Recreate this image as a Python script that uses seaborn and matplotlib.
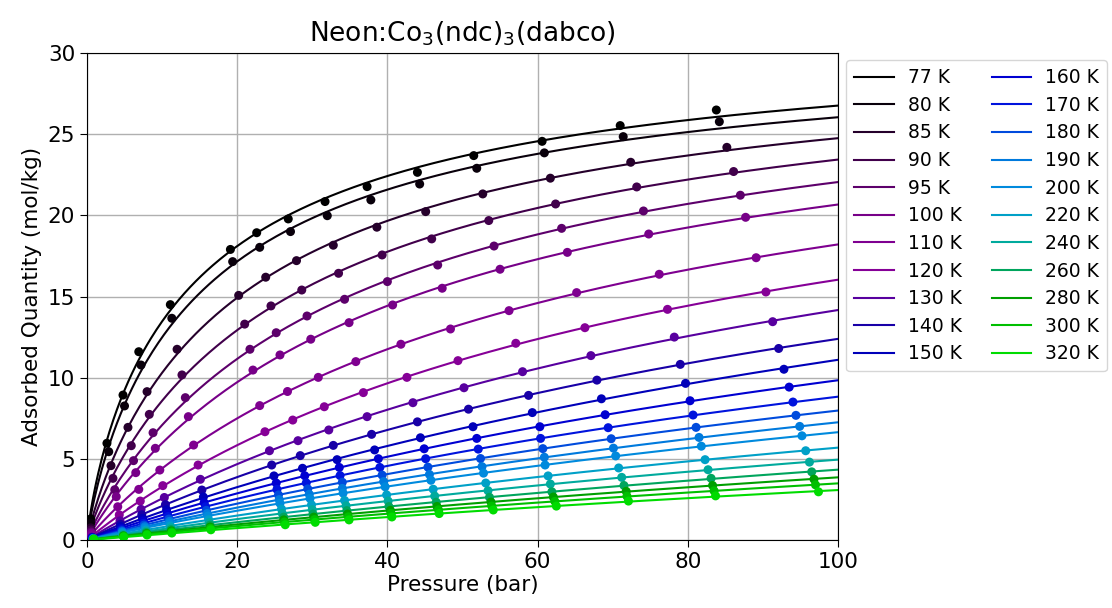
import numpy as np
import pandas as pd
import matplotlib
matplotlib.use("Agg")
import matplotlib.pyplot as plt
import seaborn as sns

# Neon adsorption isotherms on Co3(ndc)3(dabco): pressure (bar) and uptake (mol/kg)
temps = [77, 80, 85, 90, 95, 100, 110, 120, 130, 140, 150,
         160, 170, 180, 190, 200, 220, 240, 260, 280, 300, 320]

p_77 = [0.5, 2.66, 4.8, 6.9, 11.1, 19.1, 22.6, 26.8, 31.7, 37.3, 44.0, 51.5, 60.6, 71.0, 83.8]
q_77 = [1.3, 5.96, 8.93, 11.6, 14.5, 17.9, 18.93, 19.78, 20.85, 21.77, 22.65, 23.68, 24.56, 25.53, 26.49]

p_80 = [0.5, 2.9, 5.0, 7.2, 11.3, 19.4, 23.0, 27.1, 32.0, 37.8, 44.3, 51.9, 60.9, 71.4, 84.2]
q_80 = [1.05, 5.44, 8.26, 10.78, 13.66, 17.15, 18.03, 19.0, 19.98, 20.95, 21.93, 22.9, 23.85, 24.85, 25.77]

p_85 = [0.5, 3.2, 5.46, 8.0, 12.0, 20.2, 23.8, 27.9, 32.8, 38.6, 45.1, 52.7, 61.7, 72.4, 85.2]
q_85 = [0.75, 4.58, 6.94, 9.14, 11.75, 15.07, 16.19, 17.21, 18.16, 19.27, 20.23, 21.32, 22.29, 23.27, 24.19]

p_90 = [0.55, 3.46, 5.9, 8.3, 12.65, 21.0, 24.5, 28.6, 33.5, 39.3, 45.9, 53.5, 62.4, 73.2, 86.1]
q_90 = [0.62, 3.8, 5.81, 7.74, 10.17, 13.3, 14.42, 15.4, 16.43, 17.56, 18.55, 19.68, 20.7, 21.75, 22.7]

p_95 = [0.55, 3.7, 6.2, 8.8, 13.1, 21.7, 25.2, 29.3, 34.3, 40.0, 46.7, 54.2, 63.2, 74.1, 87.0]
q_95 = [0.5, 3.1, 4.89, 6.61, 8.77, 11.75, 12.77, 13.8, 14.83, 15.92, 16.94, 18.11, 19.2, 20.27, 21.24]

p_100 = [0.6, 3.9, 6.5, 9.1, 13.5, 22.1, 25.7, 29.8, 34.9, 40.7, 47.3, 55.0, 63.96, 74.8, 87.7]
q_100 = [0.43, 2.67, 4.15, 5.65, 7.6, 10.47, 11.4, 12.37, 13.39, 14.48, 15.51, 16.68, 17.72, 18.85, 19.88]

p_110 = [0.6, 4.1, 6.9, 9.7, 14.2, 23.0, 26.7, 30.8, 35.8, 41.8, 48.4, 56.2, 65.2, 76.2, 89.1]
q_110 = [0.32, 2.05, 3.12, 4.31, 5.85, 8.28, 9.15, 10.02, 10.99, 12.06, 13.0, 14.13, 15.24, 16.37, 17.39]

p_120 = [0.65, 4.3, 7.1, 10.1, 14.8, 23.7, 27.4, 31.6, 36.8, 42.6, 49.4, 57.1, 66.3, 77.3, 90.4]
q_120 = [0.25, 1.55, 2.4, 3.35, 4.62, 6.67, 7.39, 8.21, 9.08, 10.02, 11.05, 12.12, 13.08, 14.21, 15.28]

p_130 = [0.65, 4.4, 7.2, 10.3, 15.1, 24.3, 28.1, 32.2, 37.3, 43.4, 50.2, 58.0, 67.1, 78.2, 91.3]
q_130 = [0.18, 1.18, 1.89, 2.62, 3.74, 5.5, 6.12, 6.78, 7.6, 8.46, 9.38, 10.37, 11.36, 12.5, 13.45]

p_140 = [0.7, 4.45, 7.3, 10.45, 15.3, 24.6, 28.4, 32.8, 37.9, 44.0, 50.8, 58.8, 67.9, 79.0, 92.1]
q_140 = [0.16, 0.97, 1.56, 2.18, 3.08, 4.62, 5.2, 5.83, 6.51, 7.28, 8.06, 8.91, 9.85, 10.82, 11.8]

p_150 = [0.75, 4.5, 7.4, 10.6, 15.5, 24.9, 28.7, 33.3, 38.3, 44.4, 51.4, 59.3, 68.5, 79.7, 92.8]
q_150 = [0.14, 0.83, 1.34, 1.87, 2.65, 3.95, 4.42, 4.95, 5.55, 6.3, 6.98, 7.85, 8.7, 9.65, 10.52]

p_160 = [0.75, 4.55, 7.5, 10.7, 15.6, 25.2, 29.0, 33.6, 38.8, 44.9, 51.9, 60.3, 69.0, 80.3, 93.5]
q_160 = [0.12, 0.72, 1.17, 1.63, 2.3, 3.51, 3.96, 4.47, 5.01, 5.62, 6.26, 6.98, 7.72, 8.58, 9.42]

p_170 = [0.8, 4.6, 7.55, 10.8, 15.8, 25.3, 29.2, 33.7, 39.0, 45.1, 52.1, 60.4, 69.4, 80.7, 94.0]
q_170 = [0.11, 0.64, 1.03, 1.45, 2.05, 3.12, 3.52, 3.97, 4.47, 5.01, 5.6, 6.26, 6.92, 7.7, 8.5]

p_180 = [0.8, 4.65, 7.6, 10.9, 15.9, 25.5, 29.4, 34.0, 39.3, 45.4, 52.4, 60.7, 69.8, 81.1, 94.4]
q_180 = [0.1, 0.57, 0.92, 1.29, 1.83, 2.78, 3.15, 3.56, 4.0, 4.49, 5.02, 5.63, 6.24, 6.94, 7.68]

p_190 = [0.85, 4.7, 7.7, 11.0, 16.0, 25.6, 29.6, 34.0, 39.5, 45.6, 52.6, 60.9, 70.1, 81.5, 94.9]
q_190 = [0.09, 0.51, 0.82, 1.15, 1.63, 2.49, 2.82, 3.18, 3.6, 4.04, 4.52, 5.1, 5.66, 6.32, 7.0]

p_200 = [0.85, 4.7, 7.75, 11.0, 16.1, 25.7, 29.7, 34.1, 39.7, 45.8, 52.8, 61.0, 70.4, 81.8, 95.2]
q_200 = [0.08, 0.46, 0.74, 1.04, 1.48, 2.26, 2.56, 2.89, 3.28, 3.68, 4.12, 4.62, 5.18, 5.78, 6.42]

p_220 = [0.85, 4.75, 7.8, 11.1, 16.2, 25.9, 29.9, 34.3, 39.9, 46.1, 53.1, 61.4, 70.8, 82.3, 95.7]
q_220 = [0.07, 0.39, 0.62, 0.87, 1.25, 1.91, 2.17, 2.44, 2.78, 3.13, 3.51, 3.95, 4.44, 4.95, 5.5]

p_240 = [0.9, 4.8, 7.9, 11.2, 16.3, 26.0, 30.0, 34.5, 40.1, 46.3, 53.4, 61.7, 71.2, 82.7, 96.2]
q_240 = [0.06, 0.33, 0.54, 0.75, 1.07, 1.64, 1.87, 2.11, 2.4, 2.71, 3.04, 3.45, 3.86, 4.33, 4.8]

p_260 = [0.9, 4.85, 7.9, 11.2, 16.4, 26.2, 30.1, 34.6, 40.2, 46.5, 53.6, 61.9, 71.5, 83.1, 96.5]
q_260 = [0.05, 0.28, 0.46, 0.64, 0.92, 1.41, 1.6, 1.81, 2.06, 2.33, 2.63, 2.97, 3.36, 3.8, 4.2]

p_280 = [0.9, 4.85, 7.95, 11.25, 16.4, 26.2, 30.2, 34.7, 40.4, 46.6, 53.8, 62.1, 71.8, 83.3, 96.8]
q_280 = [0.05, 0.25, 0.4, 0.56, 0.8, 1.24, 1.41, 1.6, 1.83, 2.07, 2.34, 2.65, 3.0, 3.36, 3.75]

p_300 = [0.9, 4.9, 8.0, 11.3, 16.45, 26.3, 30.3, 34.8, 40.5, 46.8, 53.9, 62.3, 71.9, 83.5, 97.0]
q_300 = [0.04, 0.22, 0.36, 0.5, 0.72, 1.11, 1.26, 1.43, 1.64, 1.86, 2.09, 2.38, 2.7, 3.03, 3.4]

p_320 = [0.9, 4.9, 8.0, 11.3, 16.5, 26.4, 30.4, 34.9, 40.6, 46.9, 54.1, 62.5, 72.1, 83.7, 97.4]
q_320 = [0.04, 0.19, 0.31, 0.43, 0.63, 0.94, 1.09, 1.24, 1.42, 1.63, 1.85, 2.09, 2.4, 2.72, 2.97]

isotherms = {
    77: (p_77, q_77), 80: (p_80, q_80), 85: (p_85, q_85), 90: (p_90, q_90),
    95: (p_95, q_95), 100: (p_100, q_100), 110: (p_110, q_110), 120: (p_120, q_120),
    130: (p_130, q_130), 140: (p_140, q_140), 150: (p_150, q_150), 160: (p_160, q_160),
    170: (p_170, q_170), 180: (p_180, q_180), 190: (p_190, q_190), 200: (p_200, q_200),
    220: (p_220, q_220), 240: (p_240, q_240), 260: (p_260, q_260), 280: (p_280, q_280),
    300: (p_300, q_300), 320: (p_320, q_320),
}


def fit_sips(p, q):
    """Least-squares Langmuir-Freundlich fit, q = qm (KP)^n / (1 + (KP)^n)."""
    p = np.asarray(p, float)
    q = np.asarray(q, float)
    k_grid = np.logspace(-4, 0.5, 241)
    best = (np.inf, None)
    for n in np.linspace(0.55, 1.15, 61):
        x = (k_grid[:, None] * p[None, :]) ** n
        f = x / (1.0 + x)
        qm = (f @ q) / (f * f).sum(axis=1)
        sse = ((qm[:, None] * f - q[None, :]) ** 2).sum(axis=1)
        i = int(np.argmin(sse))
        if sse[i] < best[0]:
            best = (sse[i], (qm[i], k_grid[i], n))
    return best[1]


def sips(p, qm, k, n):
    x = (k * p) ** n
    return qm * x / (1.0 + x)


labels = [f"{t} K" for t in temps]
cmap = plt.get_cmap("nipy_spectral")
palette = {f"{t} K": cmap(0.55 * (t - temps[0]) / (temps[-1] - temps[0])) for t in temps}

p_fit = np.linspace(0, 100, 401)
curve_rows, point_rows = [], []
for t in temps:
    p, q = isotherms[t]
    qm, k, n = fit_sips(p, q)
    for pp, qq in zip(p_fit, sips(p_fit, qm, k, n)):
        curve_rows.append((f"{t} K", pp, qq))
    for pp, qq in zip(p, q):
        point_rows.append((f"{t} K", pp, qq))

curves = pd.DataFrame(curve_rows, columns=["T", "P", "q"])
points = pd.DataFrame(point_rows, columns=["T", "P", "q"])

fig = plt.figure(figsize=(11.12, 6.08), dpi=100)
ax = fig.add_axes([0.0782, 0.1118, 0.6754, 0.801])

sns.lineplot(data=curves, x="P", y="q", hue="T", hue_order=labels, palette=palette,
             estimator=None, sort=False, lw=1.5, ax=ax)
sns.scatterplot(data=points, x="P", y="q", hue="T", hue_order=labels, palette=palette,
                s=42, edgecolor="none", linewidth=0, legend=False, zorder=3, ax=ax)

ax.set_xlim(0, 100)
ax.set_ylim(0, 30)
ax.set_xticks(range(0, 101, 20))
ax.set_yticks(range(0, 31, 5))
ax.grid(True, color="#b0b0b0", lw=1.0)
ax.set_axisbelow(True)
ax.tick_params(labelsize=15.5, length=5)
ax.set_xlabel("Pressure (bar)", fontsize=15.5, labelpad=2)
ax.set_ylabel("Adsorbed Quantity (mol/kg)", fontsize=15.5)
ax.set_title(r"Neon:Co$_3$(ndc)$_3$(dabco)", fontsize=19, pad=8)

handles, lbls = ax.get_legend_handles_labels()
ax.legend(handles, lbls, ncol=2, loc="upper left", bbox_to_anchor=(1.011, 0.985),
          borderaxespad=0, fontsize=13.5, frameon=True, handlelength=2.1,
          handletextpad=0.75, columnspacing=1.6, labelspacing=0.46, borderpad=0.42)

fig.savefig("out.png", dpi=100)
